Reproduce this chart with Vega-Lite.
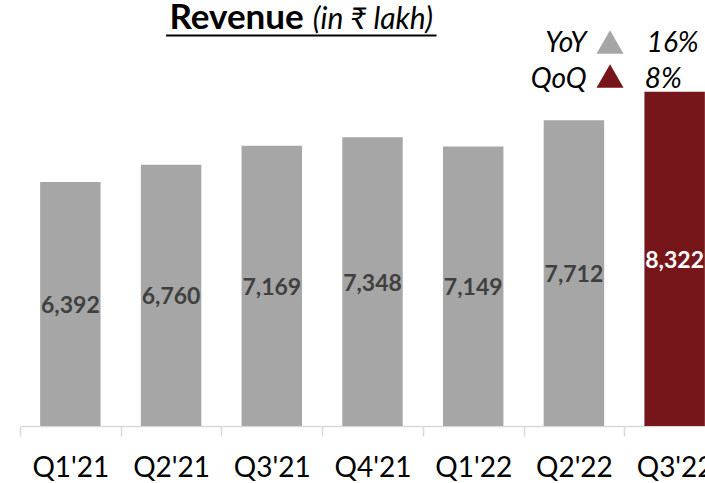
{
  "$schema": "https://vega.github.io/schema/vega-lite/v6.json",
  "width": 705,
  "height": 426,
  "autosize": "none",
  "padding": {"left": 0, "top": 0, "right": 0, "bottom": 57},
  "background": "white",
  "config": {"view": {"stroke": null}, "font": "Lato"},
  "data": {"values": [
    {"q": "Q1'21", "v": 6392},
    {"q": "Q2'21", "v": 6760},
    {"q": "Q3'21", "v": 7169},
    {"q": "Q4'21", "v": 7348},
    {"q": "Q1'22", "v": 7149},
    {"q": "Q2'22", "v": 7712},
    {"q": "Q3'22", "v": 8322}
  ]},
  "encoding": {
    "x": {
      "field": "q", "type": "nominal", "sort": null,
      "scale": {"domain": ["Q1'21", "Q2'21", "Q3'21", "Q4'21", "Q1'22", "Q2'22", "Q3'22"], "range": [20, 725], "paddingInner": 0.4, "paddingOuter": 0.2},
      "axis": {"title": null, "labelAngle": 0, "domainColor": "#D9D9D9", "domainWidth": 1.5, "tickColor": "#D9D9D9", "tickWidth": 1.5, "tickSize": 10, "tickOffset": -50.36, "labelOffset": 50.36, "labelFont": "Lato", "labelFontSize": 28, "labelColor": "#000000", "labelPadding": 18}
    }
  },
  "layer": [
    {
      "mark": {"type": "bar"},
      "encoding": {
        "y": {"field": "v", "type": "quantitative", "scale": {"domain": [1187, 10278], "zero": false, "nice": false}, "axis": null},
        "y2": {"datum": 1187},
        "color": {"condition": {"test": "datum.q == \"Q3'22\"", "value": "#76161A"}, "value": "#A6A6A6"}
      }
    },
    {
      "mark": {"type": "text", "font": "Lato", "fontSize": 23, "fontWeight": "bold", "baseline": "middle", "align": "center", "dy": 2},
      "encoding": {
        "y": {"field": "v", "type": "quantitative", "scale": {"domain": [1187, 19369], "zero": false, "nice": false}, "axis": null},
        "text": {"field": "v", "type": "quantitative", "format": ",d"},
        "color": {"condition": {"test": "datum.q == \"Q3'22\"", "value": "#FFFFFF"}, "value": "#404040"}
      }
    },
    {
      "data": {"values": [{}]},
      "mark": {"type": "text", "text": "Revenue", "font": "Lato", "fontSize": 35, "fontWeight": "bold", "align": "right", "baseline": "alphabetic", "dx": 32, "color": "#000000"},
      "encoding": {
        "x": {"datum": "Q3'21", "type": "nominal"},
        "y": {"datum": 9659, "type": "quantitative", "scale": {"domain": [1187, 10278], "zero": false, "nice": false}, "axis": null}
      }
    },
    {
      "data": {"values": [{}]},
      "mark": {"type": "text", "text": "(in ₹ lakh)", "font": "Lato", "fontSize": 30, "fontStyle": "italic", "align": "left", "baseline": "alphabetic", "dx": 41, "color": "#000000"},
      "encoding": {
        "x": {"datum": "Q3'21", "type": "nominal"},
        "y": {"datum": 9659, "type": "quantitative", "scale": {"domain": [1187, 10278], "zero": false, "nice": false}, "axis": null}
      }
    },
    {
      "data": {"values": [{}]},
      "mark": {"type": "rule", "strokeWidth": 2, "color": "#000000", "xOffset": -5, "x2Offset": 64},
      "encoding": {
        "x": {"datum": "Q2'21", "type": "nominal"},
        "x2": {"datum": "Q4'21"},
        "y": {"datum": 9520, "type": "quantitative", "scale": {"domain": [1187, 10278], "zero": false, "nice": false}, "axis": null}
      }
    },
    {
      "data": {"values": [{}]},
      "mark": {"type": "text", "text": "YoY", "font": "Lato", "fontSize": 28, "fontStyle": "italic", "align": "right", "baseline": "alphabetic", "dx": -88, "color": "#000000"},
      "encoding": {
        "x": {"datum": "Q3'22", "type": "nominal"},
        "y": {"datum": 9168, "type": "quantitative", "scale": {"domain": [1187, 10278], "zero": false, "nice": false}, "axis": null}
      }
    },
    {
      "data": {"values": [{}]},
      "mark": {"type": "text", "text": "16%", "font": "Lato", "fontSize": 28, "fontStyle": "italic", "align": "left", "baseline": "alphabetic", "dx": -28, "color": "#000000"},
      "encoding": {
        "x": {"datum": "Q3'22", "type": "nominal"},
        "y": {"datum": 9168, "type": "quantitative", "scale": {"domain": [1187, 10278], "zero": false, "nice": false}, "axis": null}
      }
    },
    {
      "data": {"values": [{}]},
      "mark": {"type": "text", "text": "QoQ", "font": "Lato", "fontSize": 28, "fontStyle": "italic", "align": "right", "baseline": "alphabetic", "dx": -88, "color": "#000000"},
      "encoding": {
        "x": {"datum": "Q3'22", "type": "nominal"},
        "y": {"datum": 8400, "type": "quantitative", "scale": {"domain": [1187, 10278], "zero": false, "nice": false}, "axis": null}
      }
    },
    {
      "data": {"values": [{}]},
      "mark": {"type": "text", "text": "8%", "font": "Lato", "fontSize": 28, "fontStyle": "italic", "align": "left", "baseline": "alphabetic", "dx": -30, "color": "#000000"},
      "encoding": {
        "x": {"datum": "Q3'22", "type": "nominal"},
        "y": {"datum": 8400, "type": "quantitative", "scale": {"domain": [1187, 10278], "zero": false, "nice": false}, "axis": null}
      }
    },
    {
      "data": {"values": [{}]},
      "mark": {"type": "point", "shape": "triangle-up", "size": 730, "filled": true, "opacity": 1, "strokeWidth": 0, "color": "#A6A6A6", "xOffset": -64.6},
      "encoding": {
        "x": {"datum": "Q3'22", "type": "nominal"},
        "y": {"datum": 9382, "type": "quantitative", "scale": {"domain": [1187, 10278], "zero": false, "nice": false}, "axis": null}
      }
    },
    {
      "data": {"values": [{}]},
      "mark": {"type": "point", "shape": "triangle-up", "size": 730, "filled": true, "opacity": 1, "strokeWidth": 0, "color": "#76161A", "xOffset": -64.6},
      "encoding": {
        "x": {"datum": "Q3'22", "type": "nominal"},
        "y": {"datum": 8656, "type": "quantitative", "scale": {"domain": [1187, 10278], "zero": false, "nice": false}, "axis": null}
      }
    }
  ],
  "resolve": {"scale": {"y": "independent"}}
}
